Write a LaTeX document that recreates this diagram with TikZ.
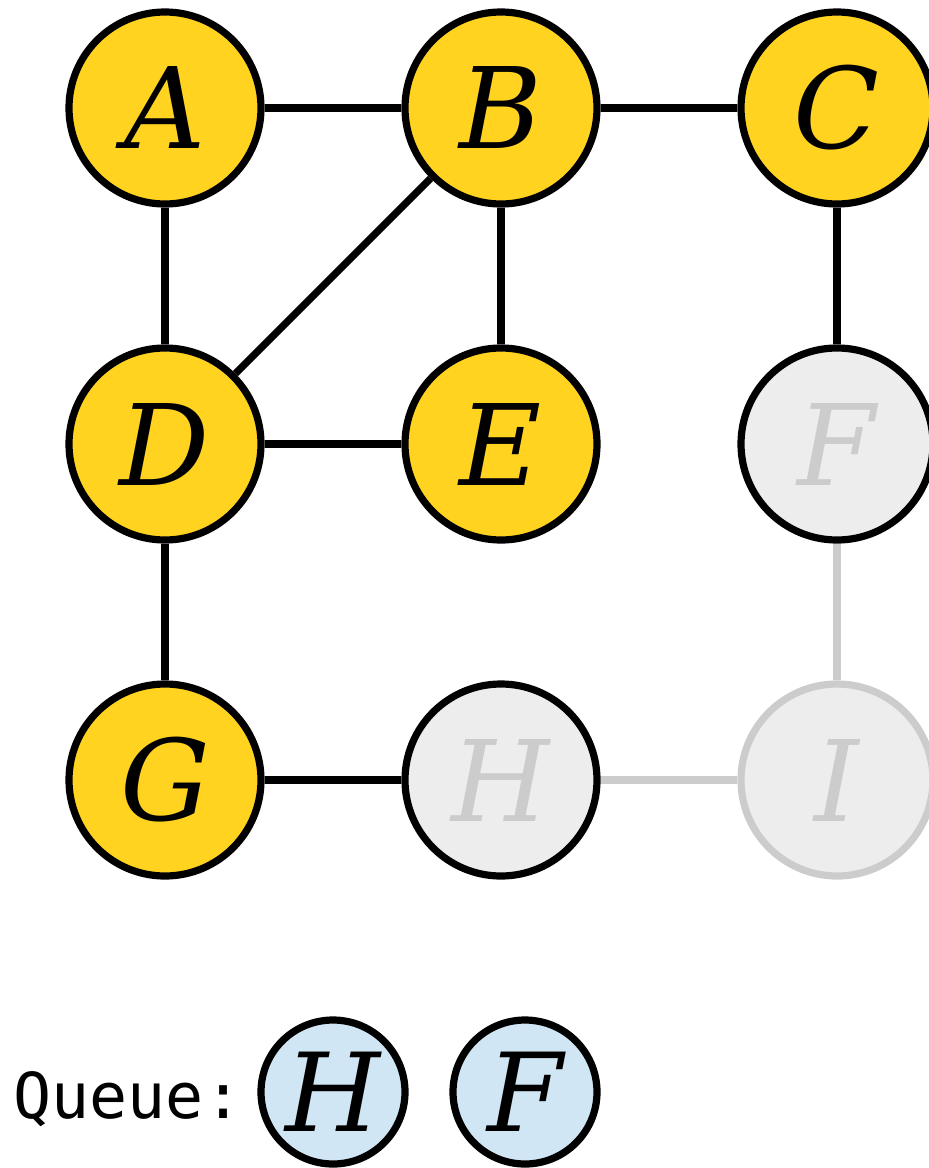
\documentclass[tikz,border=0pt]{standalone}
\usepackage{fontspec}
\setmainfont{DejaVu Serif}
\newfontfamily\queuefont{DejaVu Sans Mono}
\definecolor{visited}{RGB}{255,211,32}
\definecolor{unseen}{RGB}{237,237,237}
\definecolor{faded}{RGB}{204,204,204}
\definecolor{queued}{RGB}{208,230,244}

\begin{document}
\begin{tikzpicture}[x=0.1mm, y=-0.1mm, line width=0.72mm,
    vert/.style={circle, draw=black, fill=visited, minimum size=19.2mm, inner sep=0pt, font=\fontsize{32}{32}\selectfont\itshape},
    unvisited/.style={vert, fill=unseen, text=faded},
    qitem/.style={vert, fill=queued, minimum size=14.4mm, font=\fontsize{31}{31}\selectfont\itshape}]
            \useasboundingbox (0,0) rectangle (928,1168);
            % grid of vertices
            \node[vert] (A) at (165,108) {A};
            \node[vert] (B) at (501,108) {B};
            \node[vert] (C) at (837,108) {C};
            \node[vert] (D) at (165,444) {D};
            \node[vert] (E) at (501,444) {E};
            \node[unvisited] (F) at (837,444) {F};
            \node[vert] (G) at (165,780) {G};
            \node[unvisited] (H) at (501,780) {H};
            \node[unvisited, draw=faded] (I) at (837,780) {I};
            % edges
            \draw (A) -- (B);
            \draw (B) -- (C);
            \draw (A) -- (D);
            \draw (B) -- (D);
            \draw (B) -- (E);
            \draw (C) -- (F);
            \draw (D) -- (E);
            \draw (D) -- (G);
            \draw (G) -- (H);
            \draw[faded] (F) -- (I);
            \draw[faded] (H) -- (I);
            % queue
            \node[anchor=base west, inner sep=0pt, font=\queuefont\fontsize{18}{18}\selectfont] (label) at (10,1118) {Queue:};
            \node[qitem] (q1) at (333,1092) {H};
            \node[qitem] (q2) at (525,1092) {F};
        \end{tikzpicture}
\end{document}
